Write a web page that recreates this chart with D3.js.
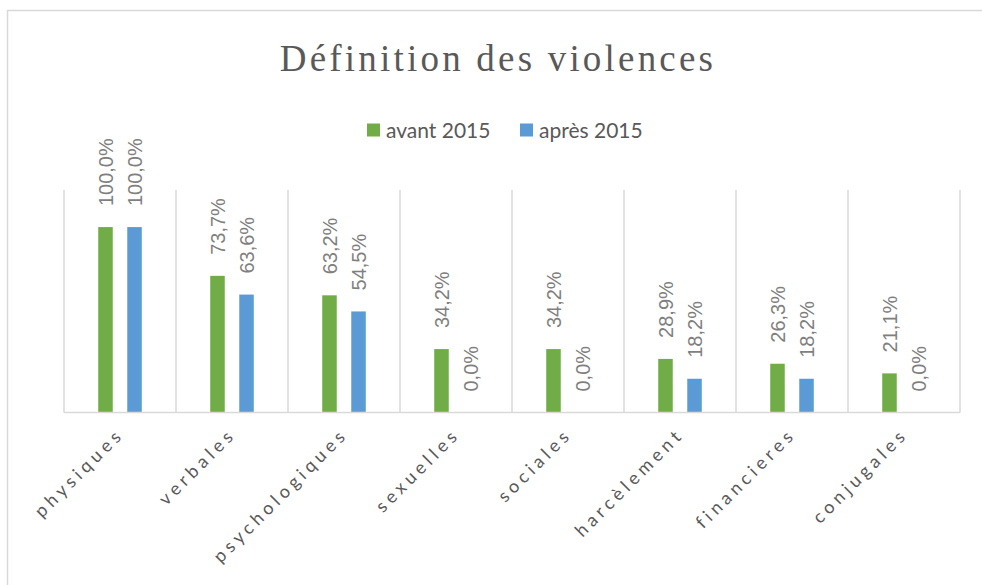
<!DOCTYPE html>
<html>
<head>
<meta charset="utf-8">
<script src="https://cdn.jsdelivr.net/npm/d3@7"></script>
<style>
  body { margin: 0; background: #fff; }
  svg { display: block; }
</style>
</head>
<body>
<div id="chart"></div>
<script>
var categories = ["physiques", "verbales", "psychologiques", "sexuelles", "sociales", "harcèlement", "financieres", "conjugales"];
var seriesNames = ["avant 2015", "après 2015"];
var avant2015 = [100.0, 73.7, 63.2, 34.2, 34.2, 28.9, 26.3, 21.1];
var apres2015 = [100.0, 63.6, 54.5, 0.0, 0.0, 18.2, 18.2, 0.0];
var seriesColors = ["#70ad47", "#5b9bd5"];

var width = 982;
var height = 585;

var svg = d3.select("#chart")
    .append("svg")
    .attr("width", width)
    .attr("height", height);

// outer frame (cut off on the right and bottom, like the screenshot)
svg.append("rect")
    .attr("x", 7.5)
    .attr("y", 10.5)
    .attr("width", 1000)
    .attr("height", 600)
    .attr("fill", "none")
    .attr("stroke", "#d9d9d9")
    .attr("stroke-width", 1.5);

var plotLeft = 64, plotRight = 960, plotTop = 190, plotBottom = 412.5;

let x = d3.scaleBand()
    .domain(categories)
    .range([plotLeft, plotRight]);

let x1 = d3.scaleBand()
    .domain(seriesNames)
    .range([0, x.bandwidth()])
    .paddingInner(0.5)
    .paddingOuter(1.18);

let y = d3.scaleLinear()
    .domain([0, 120])
    .range([plotBottom, plotTop]);

// title
svg.append("text")
    .attr("x", 498)
    .attr("y", 71)
    .attr("text-anchor", "middle")
    .style("font-family", "'Liberation Serif', 'Times New Roman', serif")
    .style("font-size", "37px")
    .style("letter-spacing", "3.2px")
    .style("fill", "#595959")
    .text("Définition des violences");

// legend
var legendX = [367, 520];
seriesNames.forEach(function(name, i){
    svg.append("rect")
        .attr("x", legendX[i])
        .attr("y", 123.5)
        .attr("width", 13)
        .attr("height", 13)
        .attr("fill", seriesColors[i]);
    svg.append("text")
        .attr("x", legendX[i] + 19)
        .attr("y", 137.5)
        .style("font-family", "Lato, 'Open Sans', sans-serif")
        .style("font-size", "21px")
        .style("fill", "#595959")
        .text(name);
});

// vertical gridlines at category boundaries
var bounds = categories.map(c => x(c)).concat([plotRight]);
svg.append("g")
    .selectAll("line")
    .data(bounds)
    .enter()
    .append("line")
    .attr("x1", d => d)
    .attr("x2", d => d)
    .attr("y1", plotTop)
    .attr("y2", plotBottom)
    .attr("stroke", "#d9d9d9")
    .attr("stroke-width", 1.5);

// bars
var rows = categories.map(function(c, i){
    return {cat: c, values: [avant2015[i], apres2015[i]]};
});

let groups = svg.append("g")
    .selectAll(".cat")
    .data(rows)
    .enter()
    .append("g")
    .attr("transform", d => "translate(" + x(d.cat) + ",0)");

groups.selectAll("rect")
    .data(d => d.values.map((v, i) => ({name: seriesNames[i], value: v, i: i})))
    .enter()
    .append("rect")
    .attr("x", d => x1(d.name))
    .attr("width", x1.bandwidth())
    .attr("y", d => y(d.value))
    .attr("height", d => plotBottom - y(d.value))
    .attr("fill", d => seriesColors[d.i]);

// value labels, rotated
groups.selectAll(".lbl")
    .data(d => d.values.map((v, i) => ({name: seriesNames[i], value: v})))
    .enter()
    .append("text")
    .attr("transform", function(d){
        var cx = x1(d.name) + x1.bandwidth() / 2 + 7.5;
        var cy = y(d.value) - 21;
        return "translate(" + cx + "," + cy + ") rotate(-90)";
    })
    .attr("text-anchor", "start")
    .style("font-family", "'Liberation Sans', Arial, sans-serif")
    .style("font-size", "20px")
    .style("fill", "#7f7f7f")
    .text(d => d.value.toFixed(1).replace(".", ",") + "%");

// baseline
svg.append("line")
    .attr("x1", plotLeft)
    .attr("x2", plotRight)
    .attr("y1", plotBottom)
    .attr("y2", plotBottom)
    .attr("stroke", "#d9d9d9")
    .attr("stroke-width", 1.5);

// category labels
svg.append("g")
    .selectAll("text")
    .data(categories)
    .enter()
    .append("text")
    .attr("transform", d => "translate(" + (x(d) + x.bandwidth() / 2 + 5) + "," + (plotBottom + 23) + ") rotate(-45)")
    .attr("text-anchor", "end")
    .style("font-family", "Lato, 'Open Sans', sans-serif")
    .style("font-size", "18px")
    .style("letter-spacing", "4.3px")
    .style("fill", "#595959")
    .text(d => d);
</script>
</body>
</html>
